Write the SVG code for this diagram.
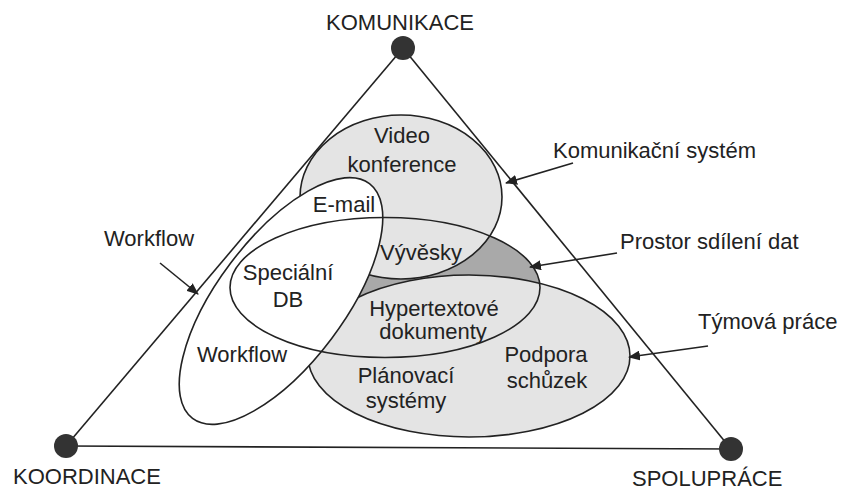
<svg xmlns="http://www.w3.org/2000/svg" width="841" height="491" viewBox="0 0 841 491">
<defs>
<style>
text{font-family:"Liberation Sans",Arial,sans-serif;font-size:22px;fill:#222;}
.c{text-anchor:middle;}
.ln{stroke:#222;stroke-width:1.6;fill:none;}
.el{stroke:#222;stroke-width:1.6;}
.light{fill:#e4e4e4;}
.dark{fill:#a9a9a9;}
.white{fill:#fff;}
.dot{fill:#333;}
.arr{stroke:#222;stroke-width:1.6;fill:none;marker-end:url(#ah);}
</style>
<marker id="ah" viewBox="0 0 12 10" refX="11" refY="5" markerWidth="12" markerHeight="10" markerUnits="userSpaceOnUse" orient="auto">
<path d="M0,0 L12,5 L0,10 z" fill="#222"/>
</marker>
</defs>
<rect width="841" height="491" fill="#fff"/>

<g id="sets">
<g id="prostor-fill"><ellipse class="dark" cx="385" cy="287.5" rx="155" ry="70"/></g>
<g id="komunikacni-system"><ellipse class="el light" cx="401" cy="197" rx="101" ry="82"/></g>
<g id="tymova-prace"><ellipse class="el light" cx="469" cy="356" rx="161" ry="81"/></g>
<g id="workflow-set"><ellipse class="el white" cx="281" cy="301" rx="147" ry="63" transform="rotate(-53 281 301)"/></g>
<g id="prostor-sdileni-dat"><ellipse class="el" fill="none" cx="385" cy="287.5" rx="155" ry="70"/></g>
</g>

<g id="connectors">
<line class="ln" x1="403" y1="48" x2="66" y2="446"/>
<line class="ln" x1="403" y1="48" x2="731" y2="449"/>
<line class="ln" x1="66" y1="446" x2="731" y2="449"/>
<line class="arr" x1="160" y1="263" x2="198" y2="294"/>
<line class="arr" x1="573" y1="163" x2="506" y2="183"/>
<line class="arr" x1="617" y1="253" x2="530" y2="267"/>
<line class="arr" x1="708" y1="346" x2="629" y2="357"/>
</g>

<g id="komunikace"><circle class="dot" cx="403" cy="48" r="12"/><text class="c" x="400" y="30">KOMUNIKACE</text></g>
<g id="koordinace"><circle class="dot" cx="66" cy="446" r="12"/><text x="13" y="484">KOORDINACE</text></g>
<g id="spoluprace"><circle class="dot" cx="731" cy="449" r="12"/><text x="632" y="486">SPOLUPRÁCE</text></g>

<g id="labels">
<text x="553" y="158">Komunikační systém</text>
<text x="620" y="249">Prostor sdílení dat</text>
<text x="698" y="329">Týmová práce</text>
<text x="104" y="246">Workflow</text>
</g>

<g id="region-labels">
<text class="c" x="402" y="143">Video</text>
<text class="c" x="402" y="172">konference</text>
<text class="c" x="344" y="212">E-mail</text>
<text class="c" x="421" y="260">Vývěsky</text>
<text class="c" x="288" y="280">Speciální</text>
<text class="c" x="288" y="307">DB</text>
<text class="c" x="242" y="362">Workflow</text>
<text class="c" x="434" y="316">Hypertextové</text>
<text class="c" x="433" y="339">dokumenty</text>
<text class="c" x="546" y="362">Podpora</text>
<text class="c" x="547" y="388">schůzek</text>
<text class="c" x="406" y="383">Plánovací</text>
<text class="c" x="406" y="408">systémy</text>
</g>
</svg>
